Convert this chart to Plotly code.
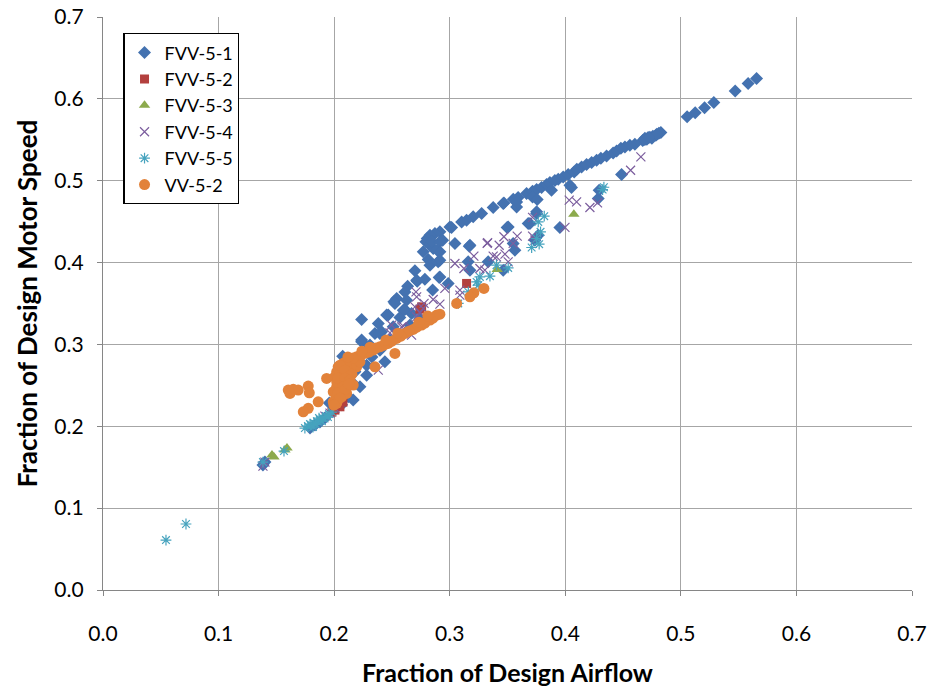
import plotly.graph_objects as go

# ---------------- data ----------------
fvv51_x = [0.5054, 0.5124, 0.5205, 0.5285, 0.547, 0.5582, 0.5655,
           0.467, 0.4706, 0.4732, 0.4758, 0.4784, 0.481, 0.4827, 0.4689, 0.4749, 0.4792,
           0.3276, 0.3376, 0.3469, 0.355, 0.3592, 0.3665, 0.3717, 0.3752, 0.3795, 0.3838, 0.3867,
           0.3939, 0.3982, 0.4025, 0.4077, 0.4141, 0.4184, 0.4228, 0.4271, 0.4357, 0.4414, 0.4444,
           0.4516, 0.4602, 0.4689, 0.4717, 0.4481, 0.4559, 0.4308, 0.41, 0.391,
           0.3579, 0.3717, 0.3757, 0.3881, 0.404, 0.4054, 0.4285, 0.4293, 0.4487, 0.3752, 0.3679,
           0.3497, 0.3953, 0.3549, 0.3564, 0.3766,
           0.3463, 0.3203, 0.3146, 0.3103, 0.3016, 0.2915, 0.2872, 0.2829, 0.2805, 0.2794, 0.2829,
           0.2857, 0.2892, 0.2771, 0.2939, 0.3045, 0.3169, 0.2814, 0.2829, 0.29, 0.2699, 0.2719,
           0.2785, 0.2909, 0.2852, 0.2987, 0.2636, 0.2612, 0.2541, 0.2517, 0.2627, 0.2598, 0.267,
           0.2468, 0.2238, 0.2382, 0.2353, 0.2411, 0.2238, 0.231, 0.2511, 0.2569,
           0.3579, 0.3002, 0.2843, 0.2915, 0.2915, 0.3175, 0.2915, 0.316, 0.2714, 0.2915, 0.3333,
           0.3463, 0.3506, 0.3694, 0.3752, 0.3737, 0.3175,
           0.2526, 0.2612, 0.2454, 0.2396, 0.2238, 0.231, 0.2074, 0.2439, 0.218, 0.2281, 0.2281,
           0.2223, 0.2165, 0.2122, 0.2151, 0.2065, 0.1958, 0.2007,
           0.1834, 0.1877, 0.192, 0.1791, 0.1384, 0.1401,
           0.2483, 0.2569, 0.2656, 0.2742, 0.2396, 0.2327, 0.2197]
fvv51_y = [0.578, 0.583, 0.589, 0.5955, 0.6097, 0.6187, 0.6248,
           0.549, 0.5507, 0.553, 0.5543, 0.5555, 0.558, 0.559, 0.552, 0.552, 0.5567,
           0.46, 0.4673, 0.4729, 0.4774, 0.4795, 0.4844, 0.4872, 0.4893, 0.4917, 0.4954, 0.4978,
           0.5018, 0.5046, 0.5076, 0.5107, 0.5169, 0.5198, 0.5222, 0.525, 0.5303, 0.534, 0.5364,
           0.5413, 0.5446, 0.5503, 0.5528, 0.5397, 0.5433, 0.5275, 0.514, 0.5004,
           0.468, 0.4802, 0.477, 0.4884, 0.4945, 0.4918, 0.4783, 0.4884, 0.5077, 0.4621, 0.4478,
           0.4429, 0.4429, 0.4234, 0.4152, 0.4335,
           0.4722, 0.4559, 0.4518, 0.4497, 0.4429, 0.4375, 0.4355, 0.4335, 0.4294, 0.4253, 0.4212,
           0.4172, 0.4151, 0.4131, 0.4274, 0.4234, 0.42, 0.4038, 0.3968, 0.4009, 0.39, 0.3773,
           0.3797, 0.3818, 0.3664, 0.3745, 0.3712, 0.3642, 0.3561, 0.3521, 0.3541, 0.3419, 0.3379,
           0.3358, 0.3305, 0.3256, 0.3135, 0.3154, 0.3053, 0.2971, 0.3216, 0.333,
           0.4741, 0.4436, 0.4253, 0.4253, 0.4131, 0.4212, 0.4029, 0.4009, 0.3785, 0.3825, 0.4009,
           0.3907, 0.4436, 0.4478, 0.46, 0.4274, 0.3907,
           0.3501, 0.3427, 0.3358, 0.3135, 0.3032, 0.2992, 0.2857, 0.2788, 0.2666, 0.2747, 0.2625,
           0.2482, 0.2321, 0.2361, 0.2544, 0.2262, 0.2283, 0.232,
           0.2015, 0.2051, 0.21, 0.1978, 0.1526, 0.1563,
           0.3053, 0.3114, 0.3236, 0.3321, 0.293, 0.2845, 0.2747]

fvv52_x = [0.3146, 0.2757, 0.205, 0.2007, 0.2024, 0.2076, 0.1981, 0.2742]
fvv52_y = [0.3745, 0.3459, 0.2238, 0.2198, 0.2271, 0.2295, 0.2173, 0.3431]

fvv53_x = [0.4074, 0.3411, 0.1592, 0.1574, 0.1462, 0.1479]
fvv53_y = [0.4591, 0.3916, 0.1734, 0.1709, 0.1648, 0.1624]

fvv54_x = [0.4654, 0.4565, 0.4034, 0.4098, 0.4213, 0.4279, 0.3997, 0.3324, 0.3428, 0.3469,
           0.3584, 0.3717, 0.3717, 0.3405, 0.3478, 0.3737, 0.3328, 0.3549, 0.3209, 0.3376,
           0.3506, 0.3045, 0.3123, 0.3261, 0.3304, 0.2958, 0.3088, 0.3088, 0.2708, 0.2714,
           0.2857, 0.2915, 0.2699, 0.2771, 0.2742, 0.2714, 0.28, 0.2497, 0.2584, 0.267, 0.2483,
           0.2007, 0.1964, 0.192, 0.1401, 0.1384, 0.2382, 0.2598, 0.267, 0.2778]
fvv54_y = [0.5291, 0.5128, 0.4762, 0.4741, 0.4673, 0.4729, 0.4429, 0.4234, 0.4212, 0.4315,
           0.4323, 0.4552, 0.4323, 0.4069, 0.4103, 0.4274, 0.4242, 0.4234, 0.4079, 0.4079,
           0.4009, 0.3989, 0.3928, 0.3928, 0.3907, 0.3684, 0.3663, 0.3602, 0.3642, 0.3581,
           0.3549, 0.3492, 0.3459, 0.3439, 0.3386, 0.3337, 0.3297, 0.3236, 0.3215, 0.3195, 0.3142,
           0.2222, 0.2161, 0.2125, 0.1563, 0.1514, 0.2686, 0.3223, 0.3114, 0.3501]

fvv55_x = [0.4323, 0.3818, 0.3766, 0.3786, 0.3774, 0.3752, 0.3709, 0.3405, 0.3506, 0.3261,
           0.3233, 0.3348, 0.3247, 0.3161, 0.3074, 0.4334, 0.0718, 0.0545, 0.1384, 0.1566,
           0.1747, 0.1773, 0.1799, 0.1825, 0.1851, 0.1877, 0.1903, 0.1929, 0.1955, 0.1981,
           0.1791, 0.1843, 0.1894, 0.1946, 0.1817, 0.1869]
fvv55_y = [0.4892, 0.4567, 0.4497, 0.4375, 0.4225, 0.4294, 0.4184, 0.3968, 0.3935, 0.3825,
           0.3764, 0.3834, 0.3724, 0.3642, 0.3501, 0.492, 0.0806, 0.061, 0.1563, 0.1697,
           0.1978, 0.2002, 0.2015, 0.2039, 0.2063, 0.2076, 0.21, 0.2125, 0.2149, 0.2173,
           0.2027, 0.2027, 0.2063, 0.2112, 0.199, 0.21]

vv52_x = [0.2887, 0.2829, 0.2757, 0.2684, 0.2612, 0.2541, 0.2468, 0.2396, 0.2338, 0.2266,
          0.2195, 0.2137, 0.2079, 0.2035, 0.2022, 0.2007, 0.205, 0.2022, 0.1992, 0.2022,
          0.1992, 0.2022, 0.2065, 0.2108, 0.2165, 0.2122, 0.2137, 0.2195, 0.2223, 0.205,
          0.2093, 0.2022, 0.205, 0.2079,
          0.2785, 0.2716, 0.2647, 0.2578, 0.25, 0.2431, 0.2362, 0.2301, 0.2232, 0.2163, 0.2102,
          0.2855, 0.2915, 0.2811, 0.2734, 0.2552, 0.2448, 0.231, 0.224, 0.2119, 0.205, 0.2093,
          0.2154, 0.2033, 0.2093, 0.2137, 0.2076, 0.2033, 0.2102, 0.2128, 0.205, 0.1998,
          0.1603, 0.1646, 0.1689, 0.1618, 0.1776, 0.1785, 0.1935, 0.1862, 0.1776, 0.1733,
          0.2353, 0.2526, 0.306, 0.3296, 0.3209, 0.3175]
vv52_y = [0.3358, 0.3297, 0.3236, 0.3183, 0.3135, 0.3073, 0.3012, 0.2971, 0.2931, 0.2891,
          0.2849, 0.2808, 0.2769, 0.2727, 0.2666, 0.2605, 0.2544, 0.2482, 0.2421, 0.2361,
          0.2299, 0.228, 0.2361, 0.2402, 0.2503, 0.2605, 0.2687, 0.2727, 0.2788, 0.2463,
          0.2524, 0.2544, 0.2646, 0.2706,
          0.3261, 0.3211, 0.3162, 0.3101, 0.304, 0.2991, 0.2955, 0.2906, 0.2869, 0.2833, 0.2784,
          0.3321, 0.337, 0.3346, 0.3272, 0.3138, 0.3053, 0.2967, 0.2918, 0.2845, 0.2747, 0.2686,
          0.2637, 0.2588, 0.2588, 0.2564, 0.2479, 0.2405, 0.2454, 0.2515, 0.2344, 0.2259,
          0.2442, 0.2451, 0.2442, 0.2402, 0.2491, 0.2409, 0.2585, 0.2299, 0.2219, 0.2177,
          0.2727, 0.289, 0.3501, 0.3684, 0.363, 0.3581]

series_names = ["FVV-5-1", "FVV-5-2", "FVV-5-3", "FVV-5-4", "FVV-5-5", "VV-5-2"]
tick_vals = [0.0, 0.1, 0.2, 0.3, 0.4, 0.5, 0.6, 0.7]
x_title = "Fraction of Design Airflow"
y_title = "Fraction of Design Motor Speed"

# ---------------- styling ----------------
styles = [
    dict(symbol="diamond", size=10, color="#4472B0", line=dict(width=0)),
    dict(symbol="square", size=9, color="#B3403E", line=dict(width=0)),
    dict(symbol="triangle-up", size=10, color="#8CAA4C", line=dict(width=0)),
    dict(symbol="x-thin-open", size=9, color="#7C5E9E", line=dict(width=1.2, color="#7C5E9E")),
    dict(symbol="asterisk-open", size=9, color="#46A3BE", line=dict(width=1.2, color="#46A3BE")),
    dict(symbol="circle", size=11, color="#E2823A", line=dict(width=0)),
]
data = [(fvv51_x, fvv51_y), (fvv52_x, fvv52_y), (fvv53_x, fvv53_y),
        (fvv54_x, fvv54_y), (fvv55_x, fvv55_y), (vv52_x, vv52_y)]

fig = go.Figure()
for i, ((xs, ys), name, st) in enumerate(zip(data, series_names, styles)):
    fig.add_trace(go.Scatter(x=xs, y=ys, mode="markers", name=name, marker=st,
                             legendgroup=f"g{i}"))

axis_common = dict(
    range=[0, 0.7], tickvals=tick_vals, tickformat=".1f",
    showgrid=True, gridcolor="#A6A6A6", gridwidth=1.3,
    showline=True, linecolor="#868686", linewidth=1.3,
    ticks="outside", ticklen=5, tickcolor="#868686",
    zeroline=False, automargin=False,
    tickfont=dict(family="Lato", size=21, color="#000000"),
)

fig.update_layout(
    width=927, height=687,
    margin=dict(l=103, r=15, t=17, b=97),
    paper_bgcolor="white", plot_bgcolor="white",
    showlegend=True,
    legend=dict(x=0.025, y=0.972, xanchor="left", yanchor="top",
                bgcolor="white", bordercolor="#000000", borderwidth=1.3,
                font=dict(family="Lato", size=18, color="#000000"),
                tracegroupgap=0, itemwidth=30),
    xaxis=dict(**axis_common, ticklabelstandoff=20,
               title=dict(text=x_title, standoff=20,
                          font=dict(family="Lato", size=25, color="#000000", weight="bold"))),
    yaxis=dict(**axis_common, ticklabelstandoff=9,
               title=dict(text=y_title, standoff=9,
                          font=dict(family="Lato", size=26, color="#000000", weight="bold"))),
)

fig.write_html("out.html")
